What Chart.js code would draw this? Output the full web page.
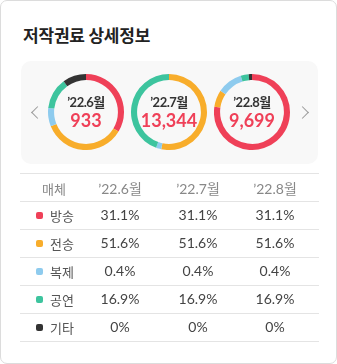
<!DOCTYPE html>
<html>
<head>
<meta charset="utf-8">
<script src="https://cdn.jsdelivr.net/npm/chart.js@4"></script>
<style>
  body { margin: 0; background: #fff; font-family: Lato, "Noto Sans CJK KR", sans-serif; }
  #card { position: absolute; left: 0; top: 0; width: 337px; height: 364px; box-sizing: border-box;
          border: 1px solid #dcdcdc; border-radius: 7px; background: #fff; }
  #title { position: absolute; left: 22px; top: 21px; font: bold 17px "Noto Sans CJK KR", sans-serif; color: #222; letter-spacing: -0.2px; }
  #panel { position: absolute; left: 20px; top: 60px; width: 297px; height: 103px; background: #f8f8f8; border-radius: 10px; }
  .arrow { position: absolute; top: 107px; width: 8px; height: 8px; border-left: 1.6px solid #999; border-bottom: 1.6px solid #999; }
  .ring { position: absolute; top: 73px; width: 76px; height: 76px; }
  .ring .month { position: absolute; left: 0; width: 76px; top: 21px; line-height: 14px; text-align: center; font: bold 13px/14px Lato, "Noto Sans CJK KR", sans-serif; color: #333; letter-spacing: -0.5px; }
  .ring .total { position: absolute; left: 0; width: 76px; top: 37px; text-align: center; font: bold 18px/18px Lato, sans-serif; color: #ef4058; }
  .line { position: absolute; left: 19px; width: 299px; height: 1px; background: #e4e4e4; }
  .cell { position: absolute; transform: translateX(-50%); font-size: 14px; color: #444; white-space: nowrap; }
  .head { color: #888; }
  .dot { position: absolute; left: 35px; width: 7px; height: 7px; border-radius: 2px; }
  .lab { position: absolute; left: 49px; font: 13px "Noto Sans CJK KR", sans-serif; color: #555; }
</style>
</head>
<body>
<div id="card">
  <div id="title">저작권료 상세정보</div>
  <div id="panel"></div>
  <div class="arrow" style="left:32px; transform: rotate(45deg)"></div>
  <div class="arrow" style="left:297px; transform: rotate(-135deg)"></div>
</div>
<script>
// data
const categories = ['방송', '전송', '복제', '공연', '기타'];
const colors = ['#ef4058', '#f8ad2b', '#8ecbee', '#3dc49e', '#333333'];
const months = ['’22.6월', '’22.7월', '’22.8월'];
const totals = ['933', '13,344', '9,699'];

// ring shares (estimated from the arcs)
const ringJun = [33.6, 35.3, 7.8, 13.3, 10.0];
const ringJul = [0, 53.3, 2.2, 44.5, 0];
const ringAug = [77.2, 7.2, 10.8, 3.4, 1.4];

// table values
const tableJun = ['31.1%', '51.6%', '0.4%', '16.9%', '0%'];
const tableJul = ['31.1%', '51.6%', '0.4%', '16.9%', '0%'];
const tableAug = ['31.1%', '51.6%', '0.4%', '16.9%', '0%'];

const card = document.getElementById('card');
const rings = [ringJun, ringJul, ringAug];
const tables = [tableJun, tableJul, tableAug];
const centers = [85, 168, 251];
const colX = [119, 197, 274];

rings.forEach((vals, i) => {
  const box = document.createElement('div');
  box.className = 'ring';
  box.style.left = (centers[i] - 38) + 'px';
  const cv = document.createElement('canvas');
  cv.width = 76; cv.height = 76;
  box.appendChild(cv);
  const m = document.createElement('div');
  m.className = 'month'; m.textContent = months[i];
  const t = document.createElement('div');
  t.className = 'total'; t.textContent = totals[i];
  box.appendChild(m); box.appendChild(t);
  card.appendChild(box);

  new Chart(cv, {
    type: 'doughnut',
    data: {
      labels: categories,
      datasets: [{ data: vals, backgroundColor: colors, borderWidth: 0 }]
    },
    options: {
      responsive: false,
      animation: false,
      cutout: '84%',
      layout: { padding: 0 },
      plugins: { legend: { display: false }, tooltip: { enabled: false } }
    }
  });
});

// table
const top0 = 172, rowH = 28;
for (let r = 0; r <= 6; r++) {
  const ln = document.createElement('div');
  ln.className = 'line';
  ln.style.top = (top0 + r * rowH) + 'px';
  card.appendChild(ln);
}

function addCell(text, x, y, cls) {
  const c = document.createElement('div');
  c.className = 'cell ' + (cls || '');
  c.textContent = text;
  c.style.left = x + 'px';
  c.style.top = y + 'px';
  card.appendChild(c);
  return c;
}

const h = addCell('매체', 53, top0 + 6, 'head');
h.style.font = '13px "Noto Sans CJK KR", sans-serif';
months.forEach((m, i) => addCell(m, colX[i], top0 + 5, 'head'));

categories.forEach((cat, r) => {
  const y = top0 + (r + 1) * rowH;
  const d = document.createElement('div');
  d.className = 'dot';
  d.style.background = colors[r];
  d.style.top = (y + 11) + 'px';
  card.appendChild(d);
  const l = document.createElement('div');
  l.className = 'lab';
  l.textContent = cat;
  l.style.top = (y + 5) + 'px';
  card.appendChild(l);
  tables.forEach((tv, i) => addCell(tv[r], colX[i], y + 5));
});
</script>
</body>
</html>
